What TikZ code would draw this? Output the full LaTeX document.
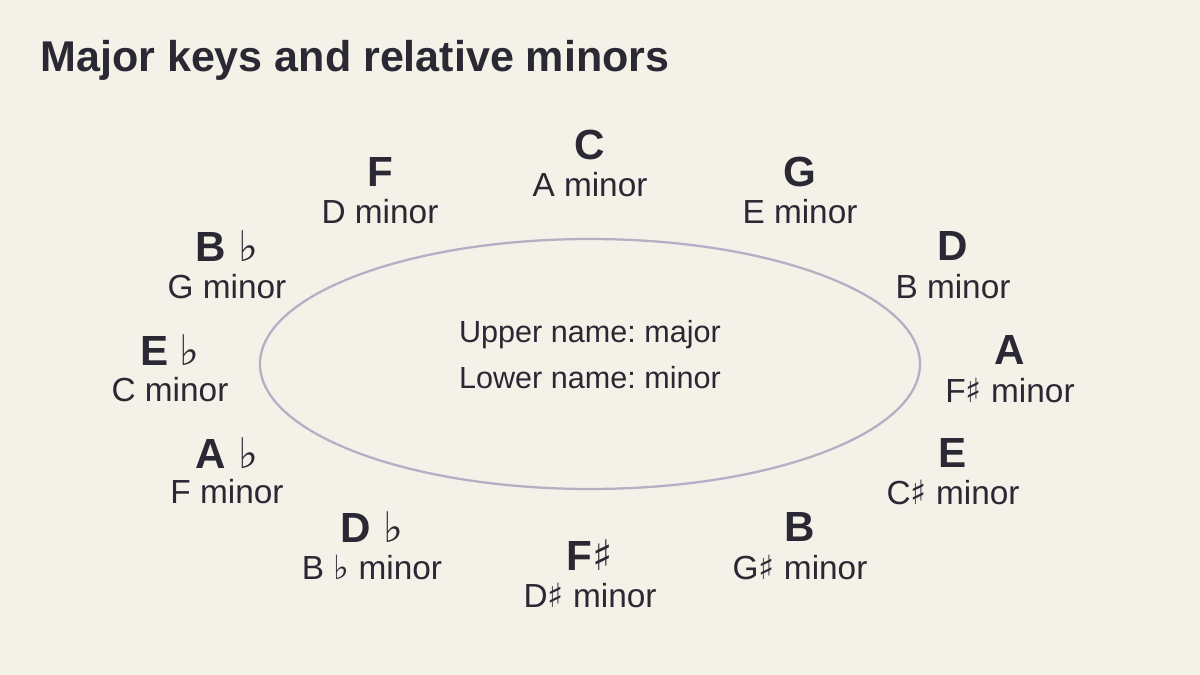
\documentclass[tikz,border=0pt]{standalone}
\usepackage{fontspec}
\setmainfont{Liberation Sans}
\newfontfamily\symf{DejaVu Sans}
\definecolor{bg}{HTML}{F4F1E9}
\definecolor{ink}{HTML}{2A2833}
\definecolor{ring}{HTML}{B8AEC4}
\newcommand{\fl}{{\symf\char"266D}}
\newcommand{\sh}{{\symf\char"266F}}
\frenchspacing
\begin{document}
\begin{tikzpicture}[x=0.02cm,y=-0.02cm,
  maj/.style={text=ink,font=\fontsize{24}{26}\selectfont\bfseries,anchor=center},
  mino/.style={text=ink,font=\fontsize{19}{21}\selectfont,anchor=center},
  ctr/.style={text=ink,font=\fontsize{17.4}{20}\selectfont,anchor=center}]
\fill[bg] (0,0) rectangle (1200,675);
\useasboundingbox (0,0) rectangle (1200,675);
\node[text=ink,font=\fontsize{24.5}{28}\selectfont\bfseries,anchor=west,inner sep=0pt] (title) at (40,60) {Major keys and relative minors};
\draw[ring,line width=1.3pt] (590,364) ellipse [x radius=330, y radius=125];
\node[ctr] (u) at (590,335) {Upper name: major};
\node[ctr] (l) at (590,378) {Lower name: minor};
\foreach \n/\x/\a/\b/\M/\m in {
 c/590/145/185/C/A minor,
 g/800/172/212/G/E minor,
 d/953/246/287/D/B minor,
 a/1010/350/390/A/F\sh{} minor,
 e/953/453/492/E/C\sh{} minor,
 b/800/527/567/B/G\sh{} minor,
 fs/590/555/595/F\sh/D\sh{} minor,
 db/372/527/567/D \fl/B \fl{}  minor,
 ab/227/453/492/A \fl/F minor,
 eb/170/350/390/E \fl/C minor,
 bb/227/246/287/B \fl/G minor,
 f/380/172/212/F/D minor}{
 \node[maj] (M\n) at (\x,\a) {\M};
 \node[mino] (m\n) at (\x,\b) {\m};
}
\end{tikzpicture}
\end{document}
